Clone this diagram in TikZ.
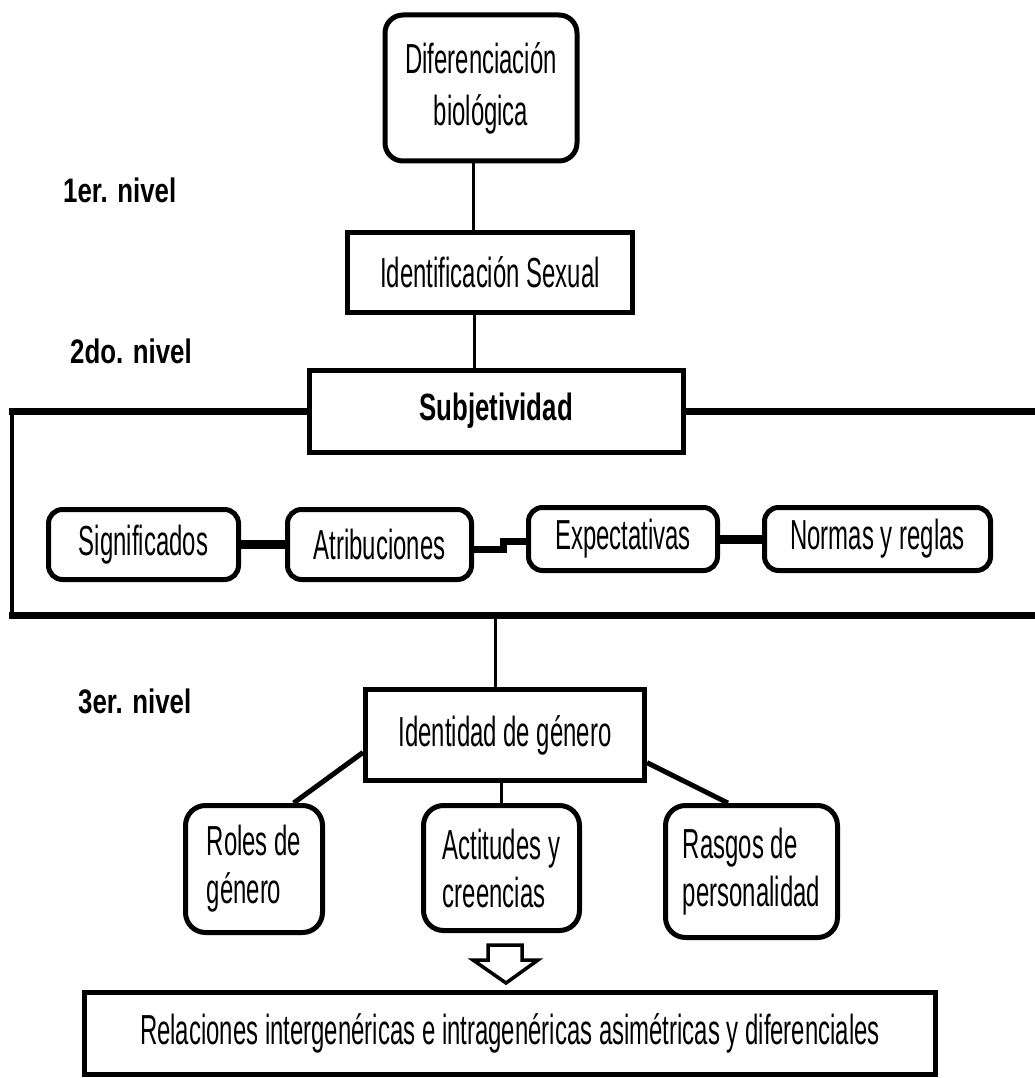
\documentclass[tikz,border=0pt]{standalone}
\usepackage{fontspec}
\setmainfont{Liberation Sans}[FakeStretch=0.57]
\newfontfamily\lblfont{Liberation Sans}[FakeStretch=0.76]
\newfontfamily\subjfont{Liberation Sans}[FakeStretch=0.68]
\begin{document}
\begin{tikzpicture}[x=1pt,y=-1pt,
  box/.style={draw, line width=5pt, inner sep=0pt, align=center, fill=white,
    font=\fontsize{42}{48}\selectfont},
  rbox/.style={box, rounded corners=18pt},
  lbox/.style={box, rounded corners=20pt, align=left},
  conn/.style={line width=3pt},
  hline/.style={line width=7pt, line cap=rect},
  vline/.style={line width=4pt, line cap=rect},
  lbl/.style={inner sep=0pt, font=\lblfont\bfseries\fontsize{34}{40}\selectfont}]
\useasboundingbox (0,0) rectangle (1034,1078);

% top chain
\node[rbox, minimum width=192pt, minimum height=146pt, font=\fontsize{42}{52}\selectfont] (dif) at (481,88) {Diferenciación\\biológica};
\node[box, minimum width=285pt, minimum height=80pt] (idsex) at (490,272) {Identificación Sexual};
\node[box, minimum width=374pt, minimum height=82pt, font=\subjfont\bfseries\fontsize{38}{44}\selectfont] (subj) at (496,411) {Subjetividad};

\draw[conn] (dif.south -| 473,0) -- (idsex.north -| 473,0);
\draw[conn] (idsex.south -| 474,0) -- (subj.north -| 474,0);

% container
\coordinate (cTL) at (12,411);
\coordinate (cBL) at (12,615);
\coordinate (cBR) at (1034,615);
\coordinate (cTR) at (1034,411);
\coordinate (cB) at (495,615);
\draw[hline] (subj.west) -- (cTL);
\draw[vline] (cTL) -- (cBL);
\draw[hline] (cBL) -- (cBR);
\draw[hline] (subj.east) -- (cTR);

% row of subjectivity boxes
\node[rbox, minimum width=190pt, minimum height=70pt, rounded corners=14pt] (sig) at (143.5,544.5) {Significados};
\node[rbox, minimum width=184pt, minimum height=70pt, rounded corners=14pt] (atr) at (379.5,544.5) {Atribuciones};
\node[rbox, minimum width=189pt, minimum height=63pt, rounded corners=14pt] (exp) at (623,539) {Expectativas};
\node[rbox, minimum width=226pt, minimum height=63pt, rounded corners=14pt] (nor) at (877.5,539) {Normas y reglas};

\draw[line width=9pt] (sig.east) -- (atr.west);
\draw[line width=7pt] ([yshift=-4.5pt]atr.east) -- ++(29,0) |- ([yshift=-2pt]exp.west);
\draw[line width=9pt] (exp.east) -- (nor.west);

% third level
\node[box, minimum width=279pt, minimum height=91pt] (ident) at (505,735) {Identidad de género};
\draw[conn] (cB) -- (ident.north -| cB);

\node[lbox, minimum width=137pt, minimum height=127pt] (roles) at (254,869) {Roles de\\género};
\node[lbox, minimum width=156pt, minimum height=125pt] (act) at (501.5,868) {Actitudes y\\creencias};
\node[lbox, minimum width=172pt, minimum height=132pt] (ras) at (751.5,871.5) {Rasgos de\\personalidad};

\draw[line width=5pt] (ident.187) -- (roles.59);
\draw[line width=5pt] (ident.349) -- (ras.109);
\draw[conn] (ident.south -| act.north) -- (act.north);

% hollow arrow
\draw[line width=3.5pt, fill=white, line join=miter] (488,945) -- (522,945) -- (522,960) -- (538,960) -- (506,983) -- (473,960) -- (488,960) -- cycle;

\node[box, minimum width=851pt, minimum height=82pt] (rel) at (510,1033) {Relaciones intergenéricas e intragenéricas asimétricas y diferenciales};

% level labels
\node[lbl, anchor=base west] (n1) at (63,203) {1er. nivel};
\node[lbl, anchor=base west] (n2) at (70,363) {2do. nivel};
\node[lbl, anchor=base west] (n3) at (78,713) {3er. nivel};
\end{tikzpicture}
\end{document}
